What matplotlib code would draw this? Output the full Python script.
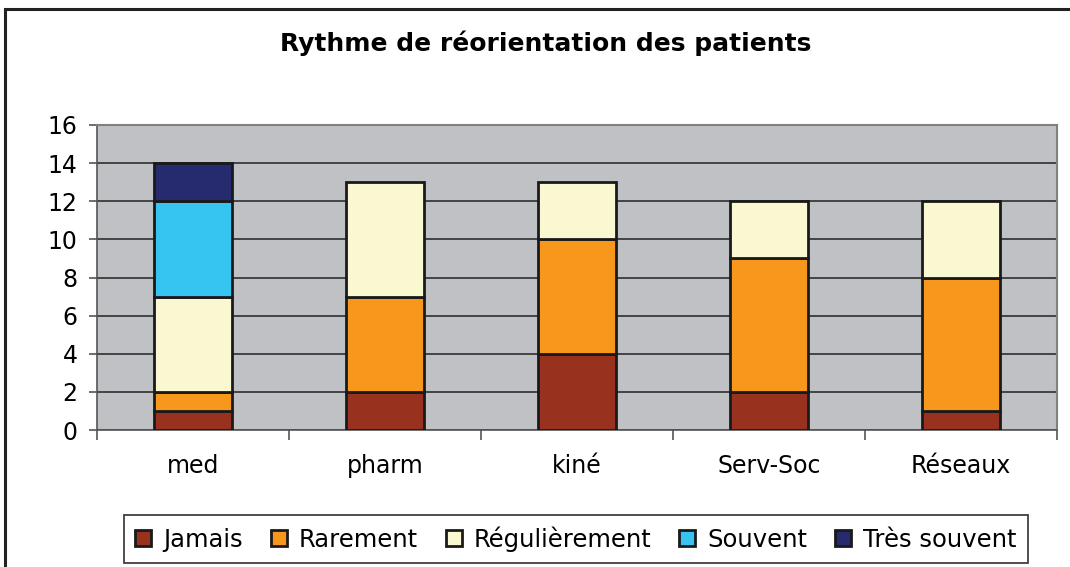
import numpy as np
import matplotlib
matplotlib.use("Agg")
import matplotlib.pyplot as plt
from matplotlib.patches import Rectangle

plt.rcParams["font.family"] = ["DejaVu Sans"]

# data
categories = ["med", "pharm", "kiné", "Serv-Soc", "Réseaux"]
series = ["Jamais", "Rarement", "Régulièrement", "Souvent", "Très souvent"]
jamais = [1, 2, 4, 2, 1]
rarement = [1, 5, 6, 7, 7]
regulierement = [5, 6, 3, 3, 4]
souvent = [5, 0, 0, 0, 0]
tres_souvent = [2, 0, 0, 0, 0]
colors = ["#98321F", "#F7981D", "#FAF8D0", "#35C5F0", "#262A6E"]

values = [jamais, rarement, regulierement, souvent, tres_souvent]

fig = plt.figure(figsize=(10.7, 5.67), dpi=100)
fig.patch.set_facecolor("white")

# outer chart border
fig.add_artist(Rectangle((5 / 1070, -0.05), 1.2, 1 - 9 / 567 + 0.05,
                         transform=fig.transFigure, fill=False,
                         edgecolor="#222222", linewidth=2.2))

ax = fig.add_axes([97 / 1070, 1 - 430 / 567, 960 / 1070, 305 / 567])
ax.set_facecolor("#C0C1C5")

x = np.arange(len(categories))
bottom = np.zeros(len(categories))
for name, vals, col in zip(series, values, colors):
    vals = np.array(vals, dtype=float)
    mask = vals > 0
    ax.bar(x[mask], vals[mask], bottom=bottom[mask], width=0.41,
           color=col, edgecolor="#1a1a1a", linewidth=2, label=name, zorder=3)
    bottom += vals

ax.set_xlim(-0.5, len(categories) - 0.5)
ax.set_ylim(0, 16)
ax.set_yticks(range(0, 17, 2))
ax.yaxis.grid(True, color="#222222", linewidth=1.1, zorder=0)
ax.set_axisbelow(True)

ax.set_xticks(x)
ax.set_xticklabels(categories, fontsize=17)
ax.tick_params(axis="x", length=0, pad=17)
ax.set_xticks(np.arange(-0.5, len(categories), 1), minor=True)
ax.tick_params(axis="x", which="minor", length=7, width=1.2, color="#555555")
ax.tick_params(axis="y", labelsize=17, length=6, width=1.2, color="#555555", pad=8)

for side in ["top", "right"]:
    ax.spines[side].set_color("#808080")
    ax.spines[side].set_linewidth(1.5)
ax.spines["left"].set_color("#555555")
ax.spines["bottom"].set_color("#555555")
ax.spines["left"].set_linewidth(1.2)
ax.spines["bottom"].set_linewidth(1.2)

fig.text(546 / 1070, 1 - 43 / 567, "Rythme de réorientation des patients",
         ha="center", va="center", fontsize=18, fontweight="bold")

handles, labels = ax.get_legend_handles_labels()
leg = fig.legend(handles, labels, ncol=5, loc="center",
                 bbox_to_anchor=(576 / 1070, 1 - 539 / 567),
                 fontsize=17.5, frameon=True, fancybox=False,
                 handlelength=0.65, handleheight=0.65, handletextpad=0.5,
                 columnspacing=1.15, borderpad=0.45, borderaxespad=0)
leg.get_frame().set_edgecolor("#111111")
leg.get_frame().set_linewidth(1.3)

fig.savefig("out.png", dpi=100)
